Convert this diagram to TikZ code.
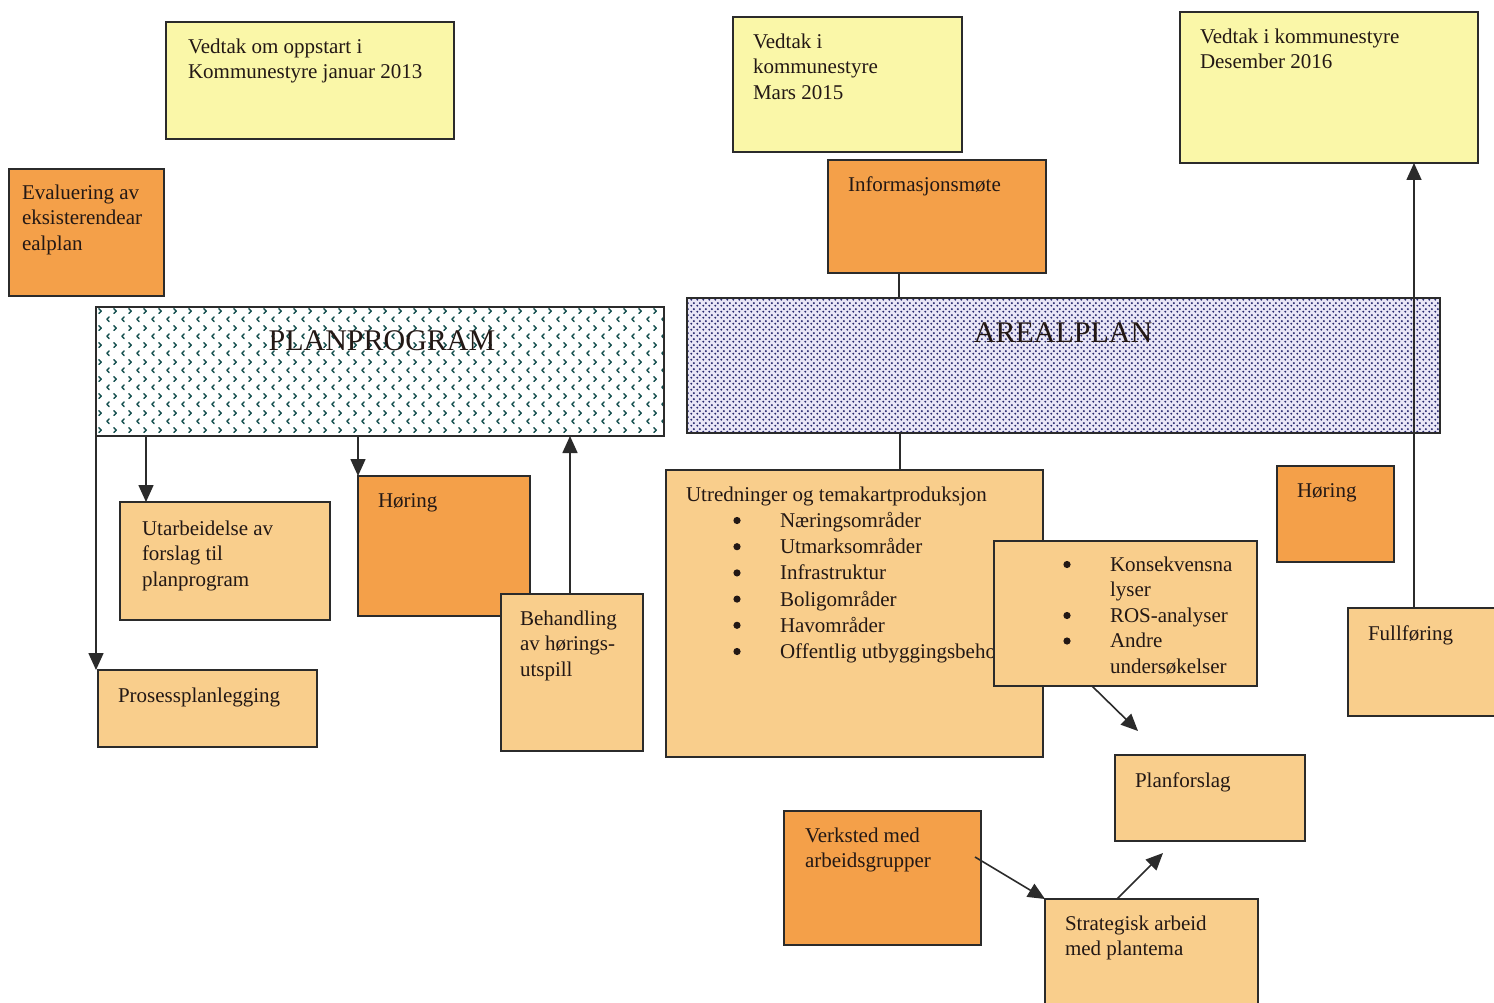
\documentclass[tikz,border=0pt]{standalone}
\usepackage{fontspec}
\setmainfont{Liberation Serif}
\usetikzlibrary{arrows.meta,patterns.meta}
\definecolor{yel}{HTML}{FAF7A8}
\definecolor{org}{HTML}{F4A049}
\definecolor{lor}{HTML}{F9CE8C}
\definecolor{ink}{HTML}{2B2B2B}
\definecolor{txtc}{HTML}{231815}
\definecolor{chevc}{HTML}{16504F}
\definecolor{lav}{HTML}{E9E6F6}
\definecolor{dotc}{HTML}{26286E}
\tikzdeclarepattern{
  name=chevrons, type=uncolored,
  bottom left={(0pt,0pt)}, top right={(15pt,17pt)}, tile size={(15pt,17pt)},
  code={
    \draw[line width=1.5pt, line cap=round, line join=round] (4.5pt,1.5pt) -- (2pt,4pt) -- (4.5pt,6.5pt);
    \draw[line width=1.5pt, line cap=round, line join=round] (9.5pt,10pt) -- (12pt,12.5pt) -- (9.5pt,15pt);
  }
}
\tikzdeclarepattern{
  name=bdots, type=uncolored,
  bottom left={(0pt,0pt)}, top right={(6pt,6pt)}, tile size={(6pt,6pt)},
  code={\fill (1.5pt,1.5pt) circle (1.25pt); \fill (4.5pt,4.5pt) circle (1.25pt);}
}
\tikzset{
  box/.style={draw=ink, line width=1.6pt, anchor=north west, inner sep=0pt, outer sep=0pt},
  txt/.style={anchor=north west, inner sep=0pt, outer sep=0pt, align=left, text=txtc, font=\fontsize{21}{25.5}\selectfont},
  listtxt/.style={txt, font=\fontsize{21}{26.2}\selectfont},
  arr/.style={draw=ink, line width=1.6pt, -{Triangle[length=17pt,width=15pt]}},
  conn/.style={draw=ink, line width=1.6pt},
  bandtitle/.style={font=\fontsize{30}{36}\selectfont, text=txtc, inner sep=0pt, anchor=base},
  bulletdot/.style={fill=txtc},
}
\begin{document}
\begin{tikzpicture}[x=1pt,y=-1pt]
\useasboundingbox (0,0) rectangle (1494,1003);
\fill[white] (0,0) rectangle (1494,1003);

% top decisions
\node[box, fill=yel, minimum width=288pt, minimum height=117pt] (v13) at (166,22) {};
\node[txt] (t13) at (188,35.2) {\strut Vedtak om oppstart i\\Kommunestyre januar 2013};
\node[box, fill=yel, minimum width=229pt, minimum height=135pt] (v15) at (733,17) {};
\node[txt] (t15) at (753,30.6) {\strut Vedtak i\\kommunestyre\\Mars 2015};
\node[box, fill=yel, minimum width=298pt, minimum height=151pt] (v16) at (1180,12) {};
\node[txt] (t16) at (1200,25.6) {\strut Vedtak i kommunestyre\\Desember 2016};

% orange top boxes
\node[box, fill=org, minimum width=155pt, minimum height=127pt] (eval) at (9,169) {};
\node[txt] (teval) at (22,181.6) {\strut Evaluering av\\eksisterendear\\ealplan};
\node[box, fill=org, minimum width=218pt, minimum height=113pt] (info) at (828,160) {};
\node[txt] (tinfo) at (848,173.6) {\strut Informasjonsmøte};

% bands
\node[box, line width=1.8pt, preaction={fill=white}, pattern=chevrons, pattern color=chevc, minimum width=568pt, minimum height=129pt] (pp) at (96,307) {};
\node[bandtitle] (ppt) at (382,350) {PLANPROGRAM};
\node[box, line width=1.8pt, preaction={fill=lav}, pattern=bdots, pattern color=dotc, minimum width=753pt, minimum height=135pt] (ap) at (687,298) {};
\node[bandtitle] (apt) at (1063,342) {AREALPLAN};

% planprogram children
\node[box, fill=lor, minimum width=210pt, minimum height=118pt] (utar) at (120,502) {};
\node[txt] (tutar) at (142,517.2) {\strut Utarbeidelse av\\forslag til\\planprogram};
\node[box, fill=org, minimum width=172pt, minimum height=140pt] (hor1) at (358,476) {};
\node[txt] (thor1) at (378,489.6) {\strut Høring};
\node[box, fill=lor, minimum width=142pt, minimum height=157pt] (beh) at (501,594) {};
\node[txt] (tbeh) at (520,607.6) {\strut Behandling\\av hørings-\\utspill};
\node[box, fill=lor, minimum width=219pt, minimum height=77pt] (pros) at (98,670) {};
\node[txt] (tpros) at (118,684.2) {\strut Prosessplanlegging};

% arealplan children
\node[box, fill=lor, minimum width=377pt, minimum height=287pt] (utr) at (666,470) {};
\node[txt] (tutr) at (686,483.6) {\strut Utredninger og temakartproduksjon};
\node[listtxt] (lutr) at (780,509.2) {\strut Næringsområder\\Utmarksområder\\Infrastruktur\\Boligområder\\Havområder\\Offentlig utbyggingsbeho};
\foreach \yy in {520.5,546.7,572.9,599.1,625.3,651.5} \fill[bulletdot] (737,\yy) circle (3.6pt);
\node[box, fill=lor, minimum width=263pt, minimum height=145pt] (kons) at (994,541) {};
\node[txt] (tkons) at (1110,553.6) {\strut Konsekvensna\\lyser\\ROS-analyser\\Andre\\undersøkelser};
\foreach \yy in {564.5,615.5,641} \fill[bulletdot] (1067,\yy) circle (3.6pt);
\node[box, fill=org, minimum width=117pt, minimum height=96pt] (hor2) at (1277,466) {};
\node[txt] (thor2) at (1297,479.6) {\strut Høring};
\node[box, fill=lor, minimum width=152pt, minimum height=108pt] (full) at (1348,608) {};
\node[txt] (tfull) at (1368,622.6) {\strut Fullføring};
\node[box, fill=lor, minimum width=190pt, minimum height=86pt] (plan) at (1115,755) {};
\node[txt] (tplan) at (1135,769.6) {\strut Planforslag};
\node[box, fill=org, minimum width=197pt, minimum height=134pt] (verk) at (784,811) {};
\node[txt] (tverk) at (805,824.6) {\strut Verksted med\\arbeidsgrupper};
\node[box, fill=lor, minimum width=213pt, minimum height=112pt] (strat) at (1045,899) {};
\node[txt] (tstrat) at (1065,912.6) {\strut Strategisk arbeid\\med plantema};

% connectors
\coordinate (xa) at (899,0);
\draw[conn] (info.south -| xa) -- (ap.north -| xa);
\coordinate (xb) at (900,0);
\draw[conn] (ap.south -| xb) -- (utr.north -| xb);
\draw[arr] (pp.south west) -- (pp.south west |- pros.north);
\coordinate (xc) at (146,0);
\draw[arr] (pp.south -| xc) -- (utar.north -| xc);
\draw[arr] (pp.south -| hor1.north west) -- (hor1.north west);
\coordinate (xd) at (570,0);
\draw[arr] (beh.north -| xd) -- (pp.south -| xd);
\coordinate (xe) at (1414,0);
\draw[arr] (full.north -| xe) -- (v16.south -| xe);
\coordinate (xf) at (1092,0);
\coordinate (kend) at (1138,731);
\draw[arr] (kons.south -| xf) -- (kend);
\coordinate (vs) at (975,857);
\draw[arr] (vs) -- (strat.north west);
\coordinate (xg) at (1117,0);
\coordinate (send) at (1163,853);
\draw[arr] (strat.north -| xg) -- (send);
\end{tikzpicture}
\end{document}
